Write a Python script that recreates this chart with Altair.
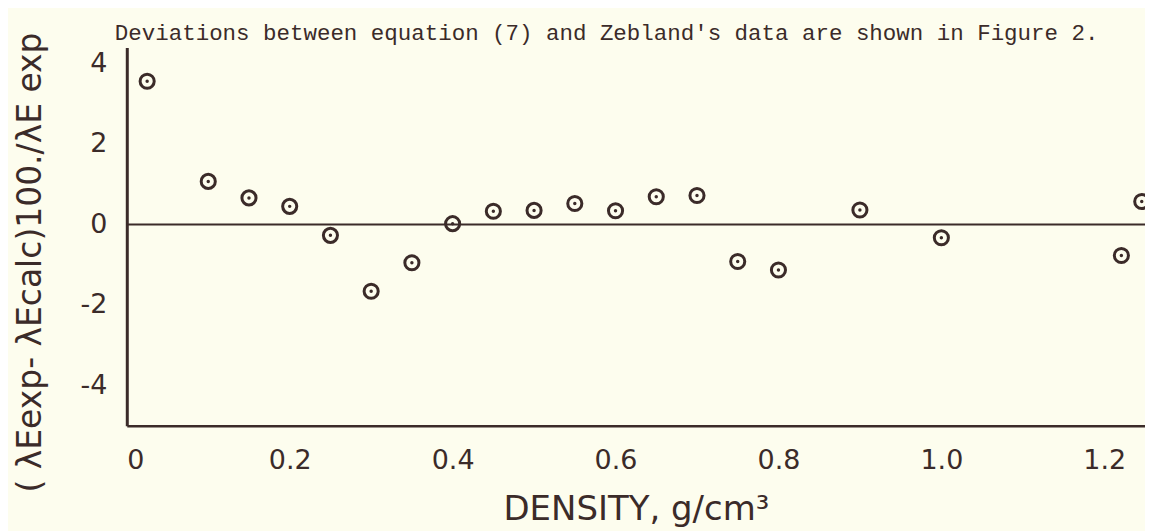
import altair as alt
import pandas as pd

density = [0.025, 0.10, 0.15, 0.20, 0.25, 0.30, 0.35, 0.40, 0.45, 0.50,
           0.55, 0.60, 0.65, 0.70, 0.75, 0.80, 0.90, 1.00, 1.221, 1.246]
deviation = [3.56, 1.07, 0.66, 0.45, -0.27, -1.66, -0.95, 0.02, 0.33, 0.35,
             0.52, 0.34, 0.69, 0.72, -0.92, -1.13, 0.36, -0.33, -0.77, 0.57]
x_ticks = [0, 0.2, 0.4, 0.6, 0.8, 1.0, 1.2]
y_ticks = [4, 2, 0, -2, -4]

caption = "Deviations between equation (7) and Zebland's data are shown in Figure 2."
y_title = "( \u03bbEexp- \u03bbEcalc)100./\u03bbE exp"
x_title = "DENSITY, g/cm\u00b3"

INK = "#3b2b29"
BG = "#fdfdee"

df = pd.DataFrame({"density": density, "deviation": deviation})
zero_df = pd.DataFrame({"y": [0]})

x_scale = alt.Scale(domain=[0, 1.25], nice=False, zero=False)
y_scale = alt.Scale(domain=[-5, 4.4], nice=False, zero=False)

x_axis = alt.Axis(
    values=x_ticks, title=x_title, ticks=False, grid=False,
    domainColor=INK, domainWidth=2.4,
    labelExpr="datum.value == 0 ? '0' : format(datum.value, '.1f')",
    labelFont="DejaVu Sans", labelFontSize=27, labelColor=INK, labelPadding=22,
    titleFont="DejaVu Sans", titleFontSize=34, titleFontWeight="normal",
    titleColor=INK, titlePadding=19,
)
y_axis = alt.Axis(
    values=y_ticks, title=y_title, ticks=False, grid=False,
    domainColor=INK, domainWidth=3,
    labelExpr="datum.value < 0 ? '-' + abs(datum.value) : '' + datum.value",
    labelFont="DejaVu Sans", labelFontSize=27, labelColor=INK, labelPadding=20,
    titleFont="DejaVu Sans", titleFontSize=33, titleFontWeight="normal",
    titleColor=INK, titleX=-96, titleY=215, titleAngle=-90,
    titleBaseline="middle", titleAlign="center",
)

rings = alt.Chart(df).mark_point(
    shape="circle", filled=False, size=200, strokeWidth=3, color=INK, opacity=1
).encode(
    x=alt.X("density:Q", scale=x_scale, axis=x_axis),
    y=alt.Y("deviation:Q", scale=y_scale, axis=y_axis),
)
dots = alt.Chart(df).mark_circle(size=12, color=INK, opacity=1).encode(
    x=alt.X("density:Q", scale=x_scale),
    y=alt.Y("deviation:Q", scale=y_scale),
)
zero_line = alt.Chart(zero_df).mark_rule(color=INK, strokeWidth=2.2).encode(
    y=alt.Y("y:Q", scale=y_scale)
)

chart = alt.layer(zero_line, rings, dots).properties(
    width=1020, height=379,
    autosize="none",
    padding={"left": 119, "top": 39, "right": 0, "bottom": 105},
    background=BG,
    title=alt.TitleParams(
        caption, anchor="start", frame="group", font="Liberation Mono",
        fontSize=22.5, fontWeight="normal", color=INK, dx=-12, dy=42,
        offset=6, baseline="bottom",
    ),
).configure_view(stroke=None)

chart.save("out.html", embed_options={"renderer": "svg", "actions": False})
